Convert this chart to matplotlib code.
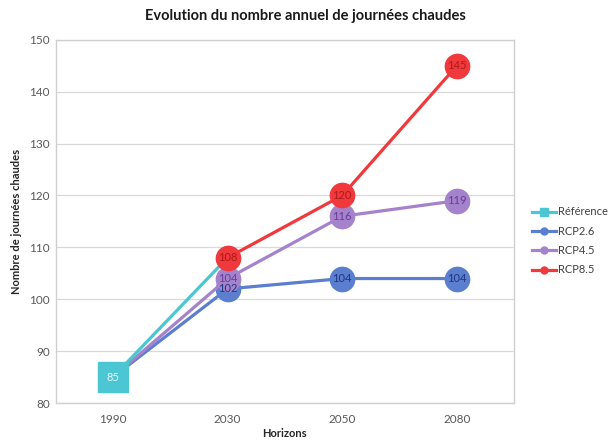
import numpy as np
import matplotlib
matplotlib.use("Agg")
import matplotlib.pyplot as plt
from matplotlib.lines import Line2D

plt.rcParams['font.family'] = ['Lato', 'DejaVu Sans']

horizons = ["1990", "2030", "2050", "2080"]
reference = [85, 108, np.nan, np.nan]
rcp26 = [85, 102, 104, 104]
rcp45 = [85, 104, 116, 119]
rcp85 = [np.nan, 108, 120, 145]

series_names = ["Référence", "RCP2.6", "RCP4.5", "RCP8.5"]
colors = ["#4BC6D2", "#5B7FCE", "#A582CC", "#F0393C"]
label_colors = ["white", "#1F3580", "#6A3C9A", "#B01818"]

fig = plt.figure(figsize=(6.1, 4.42), dpi=100)
ax = fig.add_axes([0.091, 0.088, 0.752, 0.822])
x = np.arange(len(horizons))

# RCP series
for vals, col, lcol, z in [(rcp26, colors[1], label_colors[1], 3),
                           (rcp45, colors[2], label_colors[2], 4),
                           (rcp85, colors[3], label_colors[3], 5)]:
    v = np.array(vals, dtype=float)
    ax.plot(x, v, color=col, lw=2.3, zorder=z, solid_capstyle='round')
    ax.plot(x[1:], v[1:], 'o', color=col, ms=17.5, zorder=z + 0.5, mec=col)
    for xi, yi in zip(x[1:], v[1:]):
        ax.text(xi, yi, f"{int(yi)}", ha='center', va='center', fontsize=8,
                color=lcol, zorder=10)

# Reference series
ref = np.array(reference, dtype=float)
ax.plot(x, ref, color=colors[0], lw=2.3, zorder=4.8)
ax.plot(x[0], ref[0], 's', color=colors[0], ms=21, zorder=6)
ax.text(x[0], ref[0], f"{int(ref[0])}", ha='center', va='center', fontsize=8,
        color='#E8F8FA', zorder=10)

# legend proxies
proxies = [
    Line2D([], [], color=colors[0], lw=2.3, marker='s', ms=6),
    Line2D([], [], color=colors[1], lw=2.3, marker='o', ms=5),
    Line2D([], [], color=colors[2], lw=2.3, marker='o', ms=5),
    Line2D([], [], color=colors[3], lw=2.3, marker='o', ms=5),
]
fig.legend(proxies, series_names, loc='center left', bbox_to_anchor=(0.855, 0.455),
           frameon=False, fontsize=8, handlelength=2.2, handletextpad=0.2,
           labelspacing=0.75, labelcolor='#404040')

ax.set_xlim(-0.5, len(horizons) - 0.5)
ax.set_ylim(80, 150)
ax.set_yticks(np.arange(80, 151, 10))
ax.set_xticks(x)
ax.set_xticklabels(horizons)
ax.tick_params(length=0, labelsize=8.5, labelcolor='#595959')
ax.tick_params(axis='x', pad=8)
ax.tick_params(axis='y', pad=4)
ax.grid(axis='y', color='#D9D9D9', lw=0.9)
ax.set_axisbelow(True)
for s in ax.spines.values():
    s.set_color('#D0D0D0')
    s.set_linewidth(1.0)

ax.set_xlabel("Horizons", fontsize=8, fontweight='bold', color='#262626', labelpad=2)
ax.set_ylabel("Nombre de journées chaudes", fontsize=8, fontweight='bold',
              color='#262626', labelpad=5)
fig.text(0.5, 0.963, "Evolution du nombre annuel de journées chaudes", ha='center',
         va='center', fontsize=10.5, fontweight='bold', color='#1a1a1a')

fig.savefig("out.png", dpi=100)
